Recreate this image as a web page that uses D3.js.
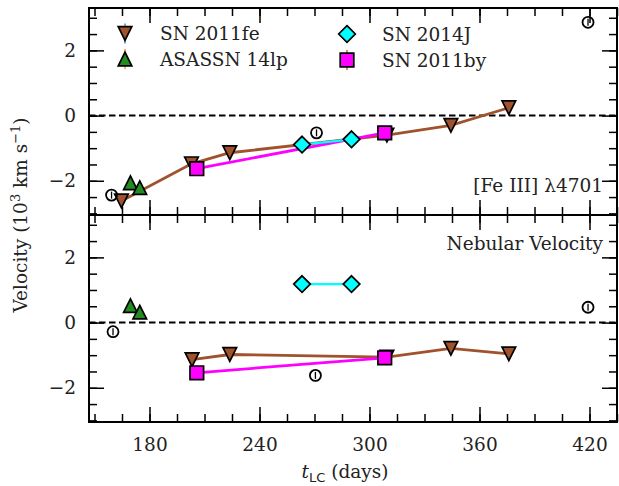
<!DOCTYPE html>
<html>
<head>
<meta charset="utf-8">
<script src="https://cdn.jsdelivr.net/npm/d3@7"></script>
<style>
  body { margin: 0; background: #fff; }
  svg { font-family: "DejaVu Serif", serif; }
</style>
</head>
<body>
<script>
// phase in days, velocities in 10^3 km/s
const feT_FeIII = [164.7, 202.9, 223.8, 309.5, 344.4, 376.0];
const feV_FeIII = [-2.62, -1.48, -1.14, -0.60, -0.30, 0.24];
const feT_Neb = [203.2, 223.8, 309.5, 344.4, 376.0];
const feV_Neb = [-1.14, -0.98, -1.06, -0.79, -0.96];

const lpT = [169.6, 174.7];
const lpV_FeIII = [-2.06, -2.21];
const lpV_Neb = [0.52, 0.32];

const jT = [263.2, 290.2];
const jV_FeIII = [-0.89, -0.73];
const jV_Neb = [1.18, 1.18];

const byT = [205.8, 308.3];
const byV_FeIII = [-1.63, -0.53];
const byV_Neb = [-1.54, -1.08];

const otherT_FeIII = [159.3, 271.1, 419.2];
const otherV_FeIII = [-2.44, -0.53, 2.86];
const otherT_Neb = [160.1, 270.5, 419.2];
const otherV_Neb = [-0.28, -1.62, 0.47];

const xMajor = [180, 240, 300, 360, 420];
const yMajor = [-2, 0, 2];

const W = 619, H = 486;
const pLeft = 89, pRight = 617, pTop = 8, pMid = 215, pBottom = 422;
const FS = 18.5;

const svg = d3.select("body").append("svg")
  .attr("width", W).attr("height", H);

const x = d3.scaleLinear().domain([147, 435]).range([pLeft, pRight]);
const yTop = d3.scaleLinear().domain([-3.05, 3.3]).range([pMid, pTop]);
const yBot = d3.scaleLinear().domain([-3.05, 3.3]).range([pBottom, pMid]);

const xMinor = d3.range(150, 436, 15);
const yMinor = d3.range(-3, 3.01, 0.5);

function zip(a, b) { return a.map((d, i) => [d, b[i]]); }

function marker(g, shape, fill) {
  const s = 6.8;
  let p;
  if (shape == "down") p = `M${-s},${-s}L${s},${-s}L0,${s}Z`;
  else if (shape == "up") p = `M0,${-s}L${s},${s}L${-s},${s}Z`;
  else if (shape == "diamond") p = "M0,-8.3L8.3,0L0,8.3L-8.3,0Z";
  else p = `M${-s},${-s}H${s}V${s}H${-s}Z`;
  g.append("path").attr("d", p)
    .attr("fill", fill).attr("stroke", "#000").attr("stroke-width", 1.7)
    .attr("stroke-linejoin", "miter");
}

function series(g, y, t, v, shape, fill, lineColor, lw) {
  const pts = zip(t, v);
  if (lineColor) {
    g.append("path")
      .attr("d", d3.line().x(d => x(d[0])).y(d => y(d[1]))(pts))
      .attr("fill", "none").attr("stroke", lineColor).attr("stroke-width", lw);
  }
  pts.forEach(d => {
    const m = g.append("g").attr("transform", `translate(${x(d[0])},${y(d[1])})`);
    marker(m, shape, fill);
  });
}

function openPts(g, y, t, v) {
  zip(t, v).forEach(d => {
    const m = g.append("g").attr("transform", `translate(${x(d[0])},${y(d[1])})`);
    m.append("circle").attr("r", 5.5).attr("fill", "none")
      .attr("stroke", "#000").attr("stroke-width", 1.8);
    m.append("line").attr("y1", -3.5).attr("y2", 3.5)
      .attr("stroke", "#000").attr("stroke-width", 1.3);
  });
}

function panel(y, y0, y1, data) {
  const g = svg.append("g");
  // zero line
  g.append("line").attr("x1", pLeft).attr("x2", pRight)
    .attr("y1", y(0)).attr("y2", y(0))
    .attr("stroke", "#000").attr("stroke-width", 2).attr("stroke-dasharray", "6.5,3.5");

  series(g, y, data.feT, data.feV, "down", "#a0522d", "#a0522d", 2.8);
  series(g, y, lpT, data.lpV, "up", "#228b22", null, 0);
  series(g, y, byT, data.byV, "square", "#ff00ff", "#ff00ff", 2.8);
  series(g, y, jT, data.jV, "diamond", "#00ffff", "#00ffff", 2.4);
  openPts(g, y, data.oT, data.oV);

  // axes, ticks pointing inward on all sides
  const addAxis = (axis, tr, vals, size, labels, pad) => {
    const a = g.append("g").attr("transform", tr)
      .call(axis.tickSizeOuter(0).tickValues(vals).tickSize(size).tickPadding(pad || 0)
        .tickFormat(labels ? (d => d < 0 ? "\u2212" + Math.abs(d) : d) : ""));
    a.select(".domain").remove();
    a.selectAll("line").attr("stroke", "#000").attr("stroke-width", 1.5);
    a.selectAll("text").attr("font-family", "DejaVu Serif").attr("font-size", FS).attr("fill", "#222");
    return a;
  };
  addAxis(d3.axisLeft(y), `translate(${pLeft},0)`, yMinor, -8, false);
  addAxis(d3.axisLeft(y), `translate(${pLeft},0)`, yMajor, -15, true, 13);
  addAxis(d3.axisRight(y), `translate(${pRight},0)`, yMinor, -8, false);
  addAxis(d3.axisRight(y), `translate(${pRight},0)`, yMajor, -15, false);
  addAxis(d3.axisTop(x), `translate(0,${y1})`, xMinor, -8, false);
  addAxis(d3.axisTop(x), `translate(0,${y1})`, xMajor, -15, false);
  addAxis(d3.axisBottom(x), `translate(0,${y0})`, xMinor, -8, false);
  addAxis(d3.axisBottom(x), `translate(0,${y0})`, xMajor, -15, data.xlabels, 16);

  g.append("rect").attr("x", pLeft).attr("y", y1).attr("width", pRight - pLeft).attr("height", y0 - y1)
    .attr("fill", "none").attr("stroke", "#000").attr("stroke-width", 2);
  return g;
}

const gTop = panel(yTop, pMid, pTop, {
  feT: feT_FeIII, feV: feV_FeIII, lpV: lpV_FeIII, byV: byV_FeIII, jV: jV_FeIII,
  oT: otherT_FeIII, oV: otherV_FeIII, xlabels: false
});
const gBot = panel(yBot, pBottom, pMid, {
  feT: feT_Neb, feV: feV_Neb, lpV: lpV_Neb, byV: byV_Neb, jV: jV_Neb,
  oT: otherT_Neb, oV: otherV_Neb, xlabels: true
});

// panel labels
gTop.append("text").attr("x", 603).attr("y", 192).attr("text-anchor", "end")
  .attr("font-size", FS).attr("fill", "#222").text("[Fe III] \u03bb4701");
gBot.append("text").attr("x", 603).attr("y", 250).attr("text-anchor", "end")
  .attr("font-size", FS).attr("fill", "#222").text("Nebular Velocity");

// legend
const legend = [
  { name: "SN 2011fe", shape: "down", fill: "#a0522d", err: "#1f77b4", x: 125, y: 33.5 },
  { name: "ASASSN 14lp", shape: "up", fill: "#228b22", err: "#ff7f0e", x: 125, y: 59 },
  { name: "SN 2014J", shape: "diamond", fill: "#00ffff", err: null, x: 347, y: 34 },
  { name: "SN 2011by", shape: "square", fill: "#ff00ff", err: "#d62728", x: 347, y: 60 }
];
legend.forEach(l => {
  const m = svg.append("g").attr("transform", `translate(${l.x},${l.y})`);
  if (l.err) m.append("line").attr("y1", -10).attr("y2", 10)
    .attr("stroke", l.err).attr("stroke-width", 1.2);
  marker(m, l.shape, l.fill);
  svg.append("text").attr("x", l.x + 35).attr("y", l.y + 6.5)
    .attr("font-size", FS).attr("fill", "#222").text(l.name);
});

// axis titles
const xt = svg.append("text").attr("x", 345).attr("y", 478).attr("text-anchor", "middle")
  .attr("font-size", FS).attr("fill", "#222");
xt.append("tspan").attr("font-style", "italic").text("t");
xt.append("tspan").attr("font-family", "DejaVu Sans").attr("font-size", 13).attr("dy", 3.5).text("LC");
xt.append("tspan").attr("dy", -3.5).text(" (days)");

const yt = svg.append("text")
  .attr("transform", `translate(27,${(pTop + pBottom) / 2}) rotate(-90)`)
  .attr("text-anchor", "middle").attr("font-size", FS).attr("fill", "#222");
yt.append("tspan").text("Velocity (10");
yt.append("tspan").attr("font-size", 13).attr("dy", -7).text("3");
yt.append("tspan").attr("dy", 7).text(" km s");
yt.append("tspan").attr("font-size", 13).attr("dy", -7).text("\u22121");
yt.append("tspan").attr("dy", 7).text(")");
</script>
</body>
</html>
